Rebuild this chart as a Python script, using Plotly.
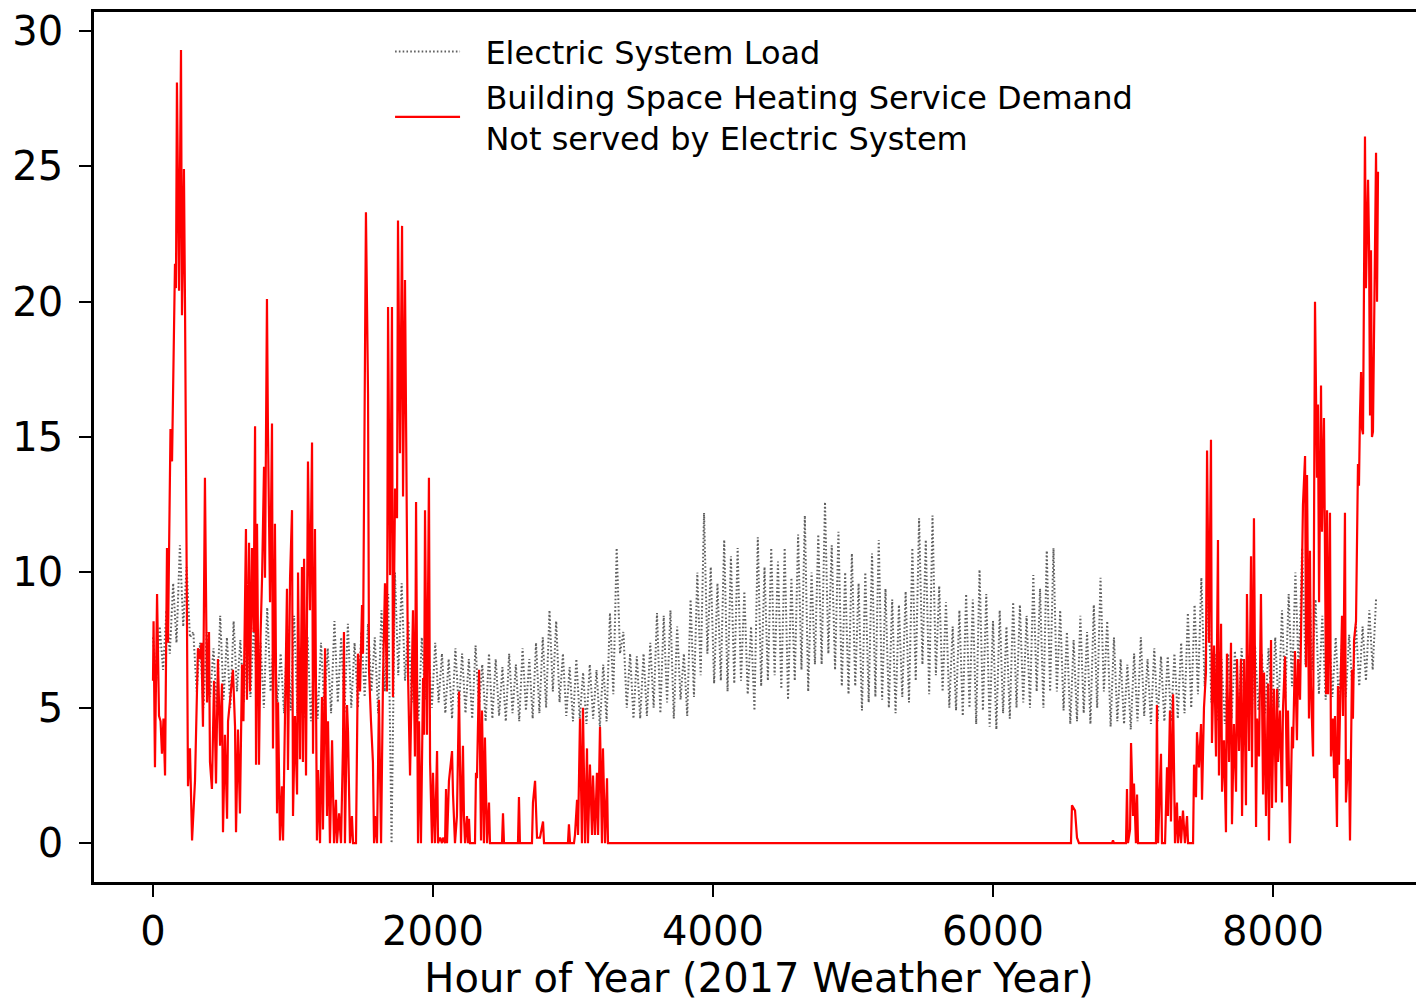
import plotly.graph_objects as go

# ---------------- data ----------------
LOAD_STEP_HOURS = 24  # alternating daily high / low samples

# Electric System Load: daily highs at hours 0, 48, 96, ...
load_high = [
    7.6, 8.0, 8.6, 9.6, 11.0, 10.2, 7.8, 7.4, 7.8, 7.2,
    8.4, 7.6, 8.2, 7.5, 7.8, 8.0, 7.4, 8.7, 7.8, 7.0,
    8.0, 8.4, 7.2, 7.6, 7.0, 7.4, 7.2, 8.2, 7.6, 8.1,
    7.4, 7.8, 8.1, 7.6, 8.6, 9.2, 10.0, 9.6, 8.2, 7.5,
    7.6, 7.2, 7.4, 7.0, 6.8, 7.2, 7.0, 6.8, 7.3, 6.6,
    7.0, 6.8, 6.5, 7.0, 6.6, 7.2, 6.8, 7.4, 7.6, 8.6,
    8.2, 7.0, 6.5, 6.8, 6.3, 6.6, 6.4, 6.6, 8.5, 10.9,
    7.8, 7.0, 6.9, 7.0, 7.4, 8.5, 8.4, 8.6, 8.0, 7.0,
    9.0, 10.0, 12.2, 10.2, 9.6, 11.2, 10.6, 10.9, 9.3, 8.0,
    11.3, 10.2, 10.9, 10.4, 10.9, 9.8, 11.4, 12.1, 10.0, 11.4,
    12.6, 11.0, 11.5, 10.0, 10.7, 9.6, 10.0, 10.7, 11.2, 9.4,
    9.0, 8.8, 9.3, 10.9, 12.0, 11.2, 12.1, 9.5, 8.9, 8.0,
    8.6, 9.2, 9.0, 10.1, 9.2, 8.2, 8.6, 8.0, 8.9, 8.8,
    8.4, 9.9, 9.4, 10.8, 10.9, 8.6, 7.8, 7.5, 8.4, 7.8,
    8.8, 9.8, 8.2, 7.6, 6.8, 6.6, 7.0, 7.6, 6.8, 7.2,
    6.9, 6.9, 7.0, 7.4, 8.5, 8.8, 9.8, 9.4, 7.0, 6.8,
    7.0, 7.1, 7.2, 6.9, 7.3, 7.0, 7.2, 7.6, 8.6, 9.2,
    10.0, 10.9, 10.4, 9.0, 8.4, 8.0, 7.6, 7.8, 7.7, 8.1,
    8.0, 8.6, 9.0,
]
# Electric System Load: daily lows at hours 24, 72, 120, ...
load_low = [
    6.0, 6.4, 7.0, 7.4, 8.0, 7.6, 5.6, 5.0, 5.4, 5.0,
    5.3, 5.0, 5.6, 5.2, 5.4, 5.5, 5.0, 5.6, 5.2, 4.8,
    4.9, 4.8, 4.6, 4.5, 4.6, 5.0, 4.8, 5.2, 4.8, 5.0,
    5.0, 5.4, 5.6, 4.8, 5.6, 0.0, 6.2, 6.0, 5.2, 4.6,
    5.3, 5.0, 5.2, 4.8, 4.6, 5.0, 4.8, 4.6, 5.0, 4.5,
    4.6, 4.7, 4.5, 4.8, 4.5, 4.9, 4.6, 4.8, 5.0, 5.6,
    5.2, 4.7, 4.5, 4.6, 4.4, 4.6, 4.3, 4.5, 5.5, 7.0,
    5.0, 4.6, 4.6, 4.7, 5.0, 4.8, 5.2, 4.6, 5.3, 4.7,
    5.4, 6.2, 7.0, 5.9, 6.0, 5.6, 5.9, 6.0, 5.5, 4.9,
    5.8, 6.0, 6.2, 5.7, 5.3, 6.0, 6.4, 5.6, 6.6, 6.6,
    7.0, 6.4, 5.8, 5.5, 5.8, 4.9, 5.2, 5.4, 5.3, 5.0,
    4.8, 5.4, 5.2, 6.0, 6.6, 5.5, 6.2, 5.6, 5.0, 4.9,
    4.7, 5.0, 4.4, 4.9, 4.3, 4.2, 4.8, 4.6, 5.0, 5.2,
    5.0, 5.6, 5.0, 5.6, 5.6, 4.9, 4.4, 4.5, 4.8, 4.4,
    5.0, 5.6, 4.3, 4.5, 4.4, 4.2, 4.5, 4.7, 4.4, 4.5,
    4.5, 4.5, 4.6, 4.8, 5.0, 5.5, 5.8, 5.2, 4.5, 4.4,
    4.6, 4.6, 4.8, 4.7, 4.9, 4.8, 4.7, 5.0, 5.4, 5.8,
    6.2, 6.6, 6.4, 5.5, 5.3, 5.4, 5.1, 5.4, 5.6, 5.8,
    6.0, 6.4,
]

# Unserved heating demand: (hour, value)
red_winter_spring = [
    (0, 6.0), (4, 8.2), (14, 2.8), (29, 9.2), (43, 4.7), (54, 4.5), (64, 3.3), (75, 4.6),
    (86, 2.5), (100, 10.9), (107, 7.4), (125, 15.3), (136, 14.1), (157, 21.4), (164, 20.5),
    (171, 28.1), (186, 20.4), (200, 29.3), (207, 19.5), (221, 24.9), (229, 19.6), (243, 9.8),
    (250, 2.1), (264, 3.5), (279, 0.1), (300, 2.3), (321, 7.2), (336, 6.8), (346, 7.4),
    (357, 4.3), (371, 13.5), (386, 5.2), (400, 7.8), (407, 3.0), (421, 2.0), (436, 6.0),
    (450, 2.2), (464, 6.8), (479, 3.6), (493, 5.9), (500, 0.4), (514, 4.0), (529, 0.9),
    (536, 4.5), (550, 5.2), (571, 6.4), (586, 4.3), (593, 0.4), (607, 4.2), (621, 1.1),
    (636, 6.6), (646, 4.5), (664, 11.6), (671, 5.3), (686, 11.1), (693, 5.6), (707, 10.9),
    (718, 7.8), (729, 15.4), (736, 2.9), (743, 11.8), (757, 2.9), (768, 7.6), (779, 9.8),
    (793, 13.9), (800, 9.8), (814, 20.1), (821, 15.3), (836, 8.9), (850, 15.5), (857, 3.5),
    (871, 11.8), (886, 1.1), (893, 5.2), (907, 0.1), (921, 2.1), (929, 0.1), (943, 5.4),
    (957, 9.4), (964, 2.7), (979, 9.8), (993, 12.3), (1000, 1.0), (1014, 4.7), (1029, 1.8),
    (1036, 10.0), (1050, 3.1), (1064, 10.2), (1071, 3.0), (1079, 10.5), (1093, 2.5),
    (1107, 14.1), (1121, 8.6), (1136, 14.8), (1143, 3.3), (1157, 11.6), (1171, 0.1),
    (1179, 2.7), (1193, 0.0), (1207, 5.4), (1214, 0.5), (1229, 7.2), (1243, 1.0), (1250, 4.5),
    (1264, 0.0), (1279, 3.8), (1293, 0.0), (1307, 1.6), (1314, 0.0), (1329, 1.1), (1343, 0.0),
    (1357, 3.6), (1364, 7.8), (1371, 0.0), (1386, 5.1), (1393, 4.1), (1407, 0.0), (1421, 1.0),
    (1429, 0.0), (1450, 0.0), (1457, 3.6), (1464, 7.0), (1479, 5.6), (1493, 8.8), (1500, 7.0),
    (1521, 23.3), (1536, 16.6), (1543, 6.4), (1557, 4.5), (1571, 3.0), (1579, 0.0), (1586, 1.0),
    (1600, 0.0), (1614, 5.3), (1629, 0.0), (1643, 6.1), (1657, 9.6), (1671, 5.6), (1679, 19.8),
    (1693, 9.9), (1707, 19.8), (1714, 5.4), (1729, 13.1), (1743, 12.0), (1750, 23.0),
    (1764, 14.4), (1779, 22.8), (1786, 12.8), (1800, 20.8), (1814, 9.2), (1821, 6.4),
    (1836, 2.5), (1850, 6.9), (1857, 8.6), (1871, 3.2), (1879, 12.6), (1893, 0.0), (1900, 4.5),
    (1914, 0.0), (1929, 6.1), (1936, 4.0), (1943, 12.3), (1957, 4.0), (1971, 13.5), (1979, 3.0),
    (1993, 0.0), (2000, 2.6), (2014, 0.0), (2029, 3.4), (2036, 0.0), (2050, 0.2), (2064, 0.0),
    (2071, 0.2), (2086, 0.0), (2093, 2.0), (2100, 0.0), (2114, 2.3), (2136, 3.4), (2143, 1.8),
    (2157, 0.0), (2171, 1.0), (2186, 5.6), (2200, 0.0), (2214, 3.6), (2221, 1.0), (2229, 0.0),
    (2243, 1.0), (2250, 0.0), (2257, 0.9), (2264, 0.0), (2300, 0.0), (2307, 2.6), (2314, 2.4),
    (2329, 6.4), (2343, 0.1), (2350, 4.9), (2364, 0.0), (2371, 3.9), (2386, 0.0), (2400, 1.5),
    (2407, 0.0),
]
red_late_spring = [
    (2493, 0.0), (2500, 1.1), (2507, 0.0), (2607, 0.0), (2614, 1.7), (2621, 0.0), (2707, 0.0),
    (2714, 1.5), (2729, 2.3), (2743, 0.2), (2764, 0.2), (2786, 0.8), (2793, 0.0), (2964, 0.0),
    (2971, 0.7), (2979, 0.0), (3007, 0.0), (3014, 0.3), (3029, 1.6), (3036, 0.3), (3050, 4.6),
    (3064, 0.0), (3071, 5.0), (3086, 0.0), (3100, 3.5), (3107, 0.0), (3121, 2.9), (3136, 0.3),
    (3143, 2.5), (3157, 0.3), (3171, 2.6), (3179, 0.3), (3193, 4.3), (3207, 0.0), (3214, 3.5),
    (3229, 0.0), (3243, 2.4), (3250, 0.0),
]
red_summer_fall = [
    (6557, 0.0), (6564, 1.4), (6586, 1.2), (6600, 0.2), (6614, 0.0), (6850, 0.0), (6857, 0.1),
    (6864, 0.0), (6950, 0.0), (6957, 2.0), (6964, 0.0), (6979, 0.5), (6986, 3.7), (7000, 1.0),
    (7007, 2.2), (7021, 0.0), (7029, 1.8), (7036, 0.0), (7164, 0.0), (7171, 5.1), (7179, 0.0),
    (7200, 3.3), (7207, 0.0), (7229, 0.0), (7243, 2.8), (7250, 1.0), (7264, 4.9), (7271, 0.8),
    (7286, 5.5), (7300, 0.0), (7314, 1.5), (7321, 0.0), (7336, 1.0), (7343, 0.0), (7357, 1.2),
    (7371, 0.0), (7386, 1.0), (7393, 0.0), (7429, 0.0),
]
red_early_winter = [
    (7436, 2.9), (7450, 1.7), (7457, 4.1), (7471, 2.8), (7486, 4.4), (7493, 1.6), (7507, 5.0),
    (7521, 6.3), (7529, 14.5), (7543, 7.4), (7557, 14.9), (7564, 3.7), (7579, 7.3), (7593, 3.2),
    (7607, 11.2), (7614, 2.5), (7629, 8.1), (7636, 1.9), (7650, 3.8), (7664, 0.4), (7671, 7.0),
    (7686, 3.0), (7700, 7.4), (7707, 0.7), (7721, 4.4), (7736, 1.9), (7743, 6.8), (7757, 3.4),
    (7771, 6.8), (7779, 1.0), (7793, 6.8), (7807, 1.4), (7814, 9.2), (7829, 3.4), (7843, 10.6),
    (7850, 2.8), (7864, 12.0), (7879, 0.6), (7886, 4.6), (7900, 3.2), (7914, 9.2), (7929, 1.8),
    (7936, 6.3), (7950, 1.0), (7964, 5.9), (7971, 0.1), (7986, 7.5), (7993, 1.3), (8007, 5.7),
    (8021, 1.5), (8029, 5.7), (8036, 3.0), (8050, 4.9), (8064, 1.5), (8071, 4.9), (8086, 6.9),
    (8100, 2.1), (8107, 4.9), (8121, 0.0), (8136, 4.3), (8143, 3.5), (8157, 7.1), (8171, 3.8),
    (8179, 6.8), (8193, 5.3), (8207, 11.5), (8214, 12.5), (8229, 14.3), (8236, 6.5), (8243, 13.6),
    (8257, 4.6), (8264, 10.8), (8271, 5.8), (8286, 3.2), (8293, 9.9), (8300, 20.0), (8314, 13.5),
    (8321, 16.2), (8329, 8.9), (8343, 16.9), (8350, 11.5), (8364, 15.7), (8379, 5.5), (8386, 12.3),
    (8393, 5.5), (8407, 12.2), (8414, 3.2), (8429, 4.6), (8436, 2.4), (8443, 4.7), (8457, 0.6),
    (8464, 5.8), (8471, 2.9), (8486, 6.1), (8493, 8.4), (8500, 4.7), (8514, 12.2), (8521, 1.5),
    (8536, 3.1), (8543, 3.0), (8550, 0.1), (8564, 6.4), (8571, 4.6), (8579, 7.5), (8593, 8.2),
    (8607, 14.0), (8614, 13.2), (8621, 15.7), (8629, 17.4), (8636, 15.3), (8643, 15.1),
    (8650, 20.7), (8657, 26.1), (8664, 20.5), (8679, 24.5), (8686, 22.1), (8693, 15.8),
    (8700, 21.9), (8707, 15.0), (8714, 15.2), (8721, 17.9), (8736, 25.5), (8743, 20.0),
    (8750, 24.8),
]

x_ticks = [0, 2000, 4000, 6000, 8000]
y_ticks = [0, 5, 10, 15, 20, 25, 30]
PAD = "\u00a0\u00a0"
name_load = PAD + "Electric System Load"
name_heat = PAD + "Building Space Heating Service Demand<br>" + PAD + "Not served by Electric System"
x_title = "Hour of Year (2017 Weather Year)"

# ---------------- build series ----------------
load_hours, load_vals = [], []
for k, hv in enumerate(load_high):
    load_hours.append(2 * k * LOAD_STEP_HOURS)
    load_vals.append(hv)
    if k < len(load_low):
        load_hours.append(2 * k * LOAD_STEP_HOURS + LOAD_STEP_HOURS)
        load_vals.append(load_low[k])

red_all = red_winter_spring + red_late_spring + red_summer_fall + red_early_winter
red_hours = [p[0] for p in red_all]
red_vals = [p[1] for p in red_all]

fig = go.Figure()
fig.add_trace(go.Scatter(
    x=load_hours, y=load_vals, mode="lines", name=name_load,
    line=dict(color="#606060", width=2.0, dash="1.6px,2.2px"),
))
fig.add_trace(go.Scatter(
    x=red_hours, y=red_vals, mode="lines", name=name_heat,
    line=dict(color="#ff0000", width=2.2),
))

# the page body adds an 8px offset; the figure is sized to fill the rest of the window
fig.update_layout(
    width=1416, height=994,
    margin=dict(l=86, r=0, t=1, b=120),
    plot_bgcolor="white", paper_bgcolor="white",
    font=dict(family="DejaVu Sans", size=40, color="black"),
    legend=dict(
        x=0.2226, y=0.986, xanchor="left", yanchor="top",
        bgcolor="rgba(0,0,0,0)", font=dict(size=32),
        itemwidth=65,
    ),
)
fig.update_xaxes(
    range=[-421.4, 9078.6], tickvals=x_ticks, ticktext=[str(v) for v in x_ticks],
    showline=True, linecolor="black", linewidth=2.5, mirror=True,
    ticks="outside", ticklen=12, tickwidth=2, tickcolor="black",
    showgrid=False, zeroline=False, ticklabeloverflow="allow",
    title=dict(text=x_title, standoff=12, font=dict(size=40)),
)
fig.update_yaxes(
    range=[-1.435, 30.70], tickvals=y_ticks, ticktext=[str(v) for v in y_ticks],
    showline=True, linecolor="black", linewidth=2.5, mirror=False,
    ticks="outside", ticklen=12, tickwidth=2, tickcolor="black",
    showgrid=False, zeroline=False, ticklabelstandoff=8, ticklabeloverflow="allow",
)

fig.write_html("out.html")
